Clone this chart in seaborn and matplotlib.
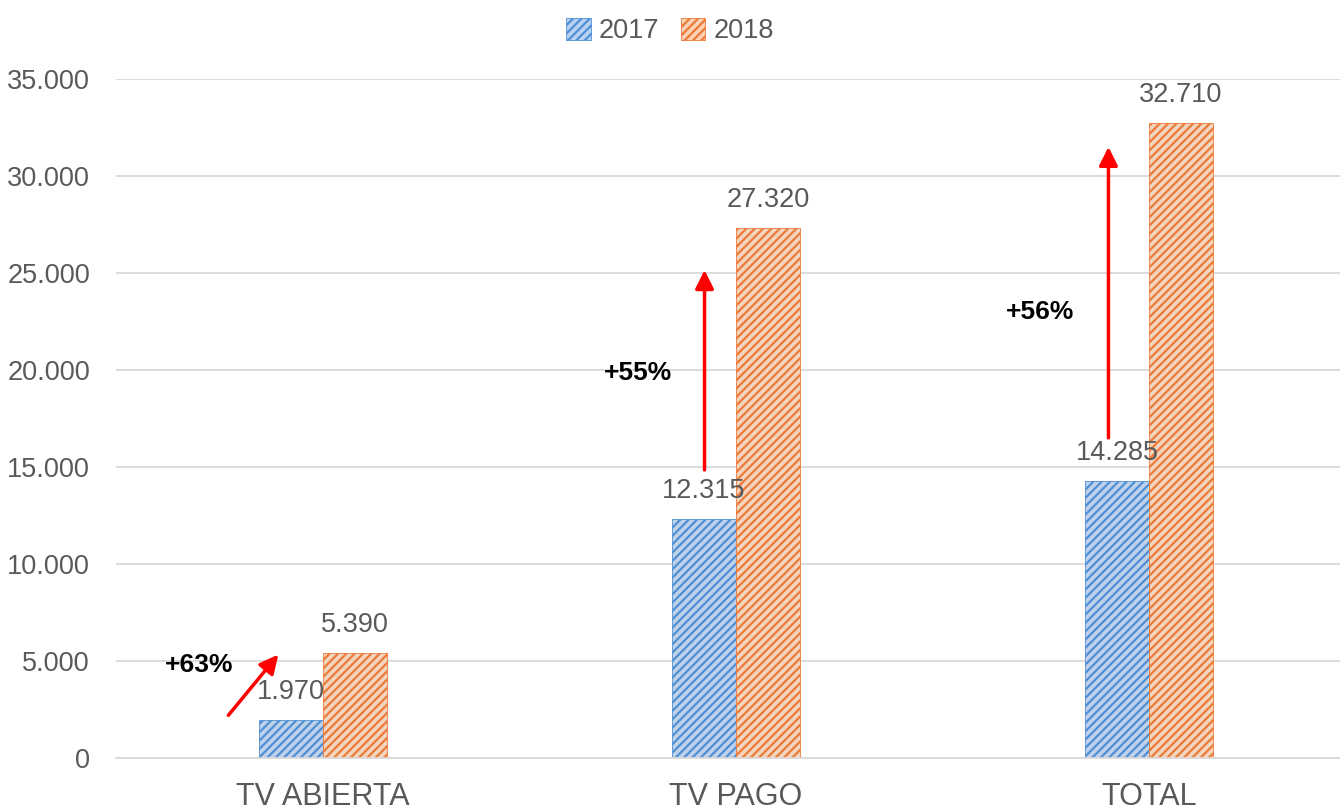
import numpy as np
import pandas as pd
import matplotlib
matplotlib.use("Agg")
import matplotlib.pyplot as plt
import seaborn as sns

categories = ["TV ABIERTA", "TV PAGO", "TOTAL"]
years = ["2017", "2018"]
values_2017 = [1970, 12315, 14285]
values_2018 = [5390, 27320, 32710]
growth_labels = ["+63%", "+55%", "+56%"]

df = pd.DataFrame({
    "cat": categories * 2,
    "year": [years[0]] * 3 + [years[1]] * 3,
    "val": values_2017 + values_2018,
})

sns.set_theme(style="white")
plt.rcParams["font.family"] = ["Liberation Sans", "DejaVu Sans"]
plt.rcParams["hatch.linewidth"] = 1.6
GREY = "#595959"

fill = {"2017": "#b9d1f0", "2018": "#fbd3b8"}
hatch_col = {"2017": "#4f8fd6", "2018": "#ee7a35"}

fig = plt.figure(figsize=(13.4, 8.1), dpi=100)
ax = fig.add_axes([0.0869, 0.0642, 0.9246, 0.8383])

sns.barplot(data=df, x="cat", y="val", hue="year", palette=fill,
            width=0.31, gap=0, ax=ax, legend=False, errorbar=None)

for cont, yr in zip(ax.containers, years):
    for p in cont:
        p.set_hatch("////")
        p.set_edgecolor(hatch_col[yr])
        p.set_linewidth(0.6)
    ax.bar_label(cont, labels=[f"{v:,.0f}".replace(",", ".") for v in cont.datavalues],
                 padding=11, fontsize=19.5, color=GREY)

ax.set_xlim(-0.5, 2.5)
ax.set_ylim(0, 35000)
ax.set_yticks(np.arange(0, 35001, 5000))
ax.set_yticklabels([f"{v:,.0f}".replace(",", ".") for v in np.arange(0, 35001, 5000)])
ax.yaxis.grid(True, color="#d9d9d9", linewidth=1.3)
ax.set_axisbelow(True)
for s in ["top", "right", "left"]:
    ax.spines[s].set_visible(False)
ax.spines["bottom"].set_color("#d9d9d9")
ax.spines["bottom"].set_linewidth(1.3)
ax.tick_params(axis="y", length=0, pad=19, labelsize=19.5, labelcolor=GREY)
ax.tick_params(axis="x", length=0, pad=17, labelsize=22, labelcolor=GREY)
ax.set_xlabel("")
ax.set_ylabel("")

# growth arrows, offsets relative to each category centre
arrows = [((-0.229, 2200), (-0.108, 5330)),
          ((0.924, 14850), (0.924, 25150)),
          ((1.902, 16500), (1.902, 31500))]
text_pos = [(-0.299, 4800), (0.764, 19850), (1.737, 23000)]
for (start, end), lab, tp in zip(arrows, growth_labels, text_pos):
    ax.annotate("", xy=end, xytext=start,
                arrowprops=dict(arrowstyle="-|>", color="#ff0000", lw=2.5,
                                mutation_scale=28, shrinkA=0, shrinkB=0))
    ax.text(tp[0], tp[1], lab, ha="center", va="center", fontsize=19,
            fontweight="bold", color="black")

handles = [plt.Rectangle((0, 0), 1, 1, facecolor=fill[y], edgecolor=hatch_col[y],
                         hatch="////", linewidth=0.6) for y in years]
fig.legend(handles, years, loc="upper center", bbox_to_anchor=(0.5, 1.008), ncol=2,
           frameon=False, fontsize=19.5, handlelength=0.9, handleheight=0.9,
           handletextpad=0.3, columnspacing=0.8, labelcolor=GREY)

fig.savefig("out.png", dpi=100)
